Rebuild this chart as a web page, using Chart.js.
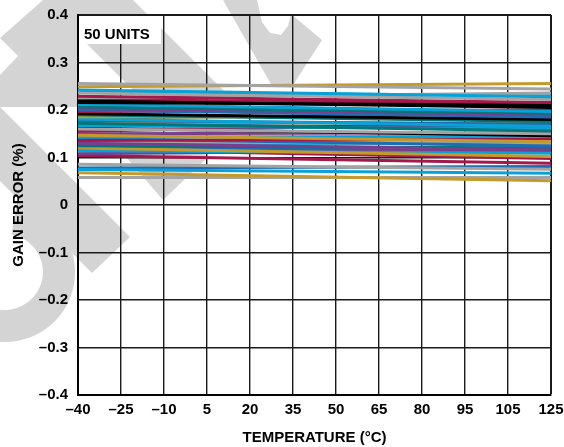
<!DOCTYPE html>
<html>
<head>
<meta charset="utf-8">
<script src="https://cdn.jsdelivr.net/npm/chart.js@4.4.1/dist/chart.umd.min.js"></script>
<style>
    html, body { margin: 0; padding: 0; background: #fff; }
    canvas { display: block; }
</style>
</head>
<body>
<canvas id="chart-gain" width="564" height="447"></canvas>
<script>
// --- DATA ---
const temps = [-40, 125];
const xTicks = [-40, -25, -10, 5, 20, 35, 50, 65, 80, 95, 110, 125];
const xLabels = ['–40', '–25', '–10', '5', '20', '35', '50', '65', '80', '95', '105', '125'];
const yTicks = [-0.4, -0.3, -0.2, -0.1, 0, 0.1, 0.2, 0.3, 0.4];
const yLabels = ['–0.4', '–0.3', '–0.2', '–0.1', '0', '0.1', '0.2', '0.3', '0.4'];

// gain error (%) of each unit at -40°C and at 125°C
const errAtMin = [0.256, 0.249, 0.242, 0.236, 0.229, 0.226, 0.219, 0.216, 0.212, 0.207,
                  0.203, 0.200, 0.197, 0.192, 0.190, 0.186, 0.181, 0.178, 0.172, 0.175,
                  0.167, 0.160, 0.155, 0.162, 0.147, 0.143, 0.136, 0.140, 0.130, 0.125,
                  0.120, 0.114, 0.108, 0.104, 0.134, 0.122, 0.133, 0.117, 0.128, 0.086,
                  0.075, 0.068, 0.058, 0.078, 0.150, 0.183, 0.110, 0.238, 0.170, 0.222];
const errAtMax = [0.244, 0.256, 0.228, 0.222, 0.216, 0.236, 0.205, 0.210, 0.197, 0.193,
                  0.190, 0.185, 0.200, 0.180, 0.176, 0.185, 0.165, 0.170, 0.156, 0.171,
                  0.160, 0.150, 0.173, 0.146, 0.133, 0.144, 0.140, 0.124, 0.116, 0.120,
                  0.102, 0.109, 0.118, 0.088, 0.128, 0.112, 0.138, 0.098, 0.130, 0.075,
                  0.067, 0.051, 0.058, 0.081, 0.152, 0.192, 0.126, 0.230, 0.162, 0.213];
const unitColors = ['gray', 'gold', 'cyan', 'gray', 'crimson', 'gray', 'black', 'black', 'cyan', 'teal',
                    'purple', 'blue', 'crimson', 'black', 'teal', 'gold', 'cyan', 'blue', 'teal', 'gold',
                    'cyan', 'gray', 'crimson', 'black', 'gold', 'cyan', 'crimson', 'blue', 'purple', 'teal',
                    'gold', 'cyan', 'purple', 'crimson', 'gray', 'blue', 'gold', 'crimson', 'cyan', 'gray',
                    'cyan', 'gold', 'gray', 'blue', 'purple', 'teal', 'gray', 'cyan', 'blue', 'crimson'];

const palette = {
    gray: '#a3a3a3', gold: '#c49a2c', cyan: '#0aa2d6', crimson: '#a3194b',
    black: '#000000', teal: '#00777a', purple: '#7a3e8e', blue: '#1e6cb3'
};

const datasets = errAtMin.map((v, i) => ({
    label: 'Unit ' + (i + 1),
    data: [{ x: temps[0], y: v }, { x: temps[1], y: errAtMax[i] }],
    borderColor: palette[unitColors[i]],
    borderWidth: 3,
    pointRadius: 0,
    tension: 0
}));

// grey watermark in the background (page decoration, not data)
const watermark = {
    id: 'watermark',
    beforeDraw(chart) {
        const c = chart.ctx;
        const shapes = [
            [[223, 0], [257, 0], [262, 22], [270, 33], [281, 35], [288, 26], [291, 14], [322, 40], [293, 85], [272, 86]],
            [[43, 0], [133, 0], [230, 97], [140, 97]],
            [[43, 0], [78, 0], [78, 107], [0, 107], [0, 75], [18, 56], [0, 38]],
            [[0, 107], [130, 237], [92, 273], [0, 181]],
            [[120, 150], [205, 150], [205, 160], [163, 200]]
        ];
        c.save();
        c.fillStyle = '#d4d4d4';
        shapes.forEach(pts => {
            c.beginPath();
            pts.forEach(([x, y], k) => k ? c.lineTo(x, y) : c.moveTo(x, y));
            c.closePath();
            c.fill();
        });
        c.beginPath();
        c.arc(5, 272, 70, -1.4, 1.9);
        c.arc(5, 272, 38, 1.9, -1.4, true);
        c.closePath();
        c.fill();
        c.restore();
    }
};

const unitsLabel = {
    id: 'unitsLabel',
    beforeDatasetsDraw(chart) {
        const c = chart.ctx;
        const a = chart.chartArea;
        c.save();
        c.fillStyle = '#fff';
        c.fillRect(a.left + 1, a.top + 1, 82, 28);
        c.fillStyle = '#000';
        c.font = 'bold 15px "Liberation Sans", Arial, sans-serif';
        c.textBaseline = 'middle';
        c.fillText('50 UNITS', a.left + 6, a.top + 20);
        c.restore();
    }
};

const tickFont = { family: '"Liberation Sans", Arial, sans-serif', size: 15, weight: 'bold' };

new Chart(document.getElementById('chart-gain'), {
    type: 'line',
    data: { datasets: datasets },
    plugins: [watermark, unitsLabel],
    options: {
        responsive: false,
        animation: false,
        devicePixelRatio: 1,
        layout: { padding: { top: 15, right: 13, left: 0, bottom: 0 } },
        plugins: { legend: { display: false }, tooltip: { enabled: false } },
        scales: {
            x: {
                type: 'linear',
                min: -40, max: 125,
                afterBuildTicks: axis => { axis.ticks = xTicks.map(v => ({ value: v })); },
                afterFit: axis => { axis.height = 52; axis.paddingLeft = 0; axis.paddingRight = 0; },
                ticks: {
                    color: '#000', font: tickFont, padding: 6, maxRotation: 0,
                    callback: (v, i) => xLabels[i]
                },
                grid: {
                    color: '#1a1a1a', drawTicks: false,
                    lineWidth: ctx => (ctx.index === xTicks.length - 1 ? 2 : 1.4)
                },
                border: { color: '#000', width: 2 },
                title: {
                    display: true, text: 'TEMPERATURE (°C)', color: '#000',
                    font: tickFont, padding: { top: 0, bottom: 0 }
                }
            },
            y: {
                min: -0.4, max: 0.4,
                afterBuildTicks: axis => { axis.ticks = yTicks.map(v => ({ value: v })); },
                afterFit: axis => { axis.width = 78; axis.paddingTop = 0; axis.paddingBottom = 0; },
                ticks: {
                    color: '#000', font: tickFont, padding: 10,
                    callback: (v, i) => yLabels[i]
                },
                grid: {
                    color: '#1a1a1a', drawTicks: false,
                    lineWidth: ctx => (ctx.index === yTicks.length - 1 ? 2 : 1.4)
                },
                border: { color: '#000', width: 2 },
                title: {
                    display: true, text: 'GAIN ERROR (%)', color: '#000',
                    font: tickFont, padding: { top: 10, bottom: 0 }
                }
            }
        }
    }
});
</script>
</body>
</html>
